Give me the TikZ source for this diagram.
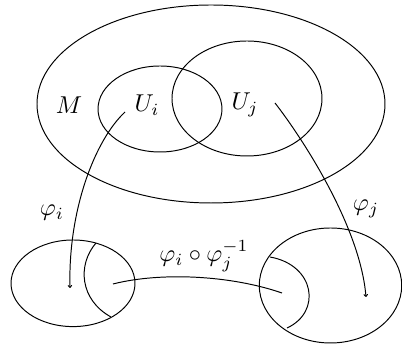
\documentclass[tikz,border=0pt]{standalone}
\usetikzlibrary{arrows.meta}
\begin{document}
\begin{tikzpicture}[x=0.41pt,y=-0.41pt,
  setline/.style={line width=0.4pt},
  mapline/.style={line width=0.4pt,-{To[length=1.2pt,width=1.8pt]}},
  lbl/.style={inner sep=0pt}]
\useasboundingbox (0,0) rectangle (402,345);
% ellipses
\draw[setline] (211,104) ellipse [x radius=174, y radius=99];
\draw[setline] (160,109) ellipse [x radius=62, y radius=43];
\draw[setline] (247,98.5) ellipse [x radius=75, y radius=57.5];
\draw[setline] (73,283.3) ellipse [x radius=62, y radius=43.3];
\draw[setline] (330.5,285.5) ellipse [x radius=71.2, y radius=57.5];
% inner arcs
\draw[setline] (96,243) .. controls (77,265) and (80,300) .. (111,317);
\draw[setline] (270,257) .. controls (315,265) and (322,312) .. (287,328);
% labels
\node[lbl] (M) at (69,105) {$M$};
\node[lbl] (Ui) at (147,105) {$U_i$};
\node[lbl] (Uj) at (245,105) {$U_j$};
\node[lbl] (pi) at (52,213) {$\varphi_i$};
\node[lbl] (pj) at (366,209) {$\varphi_j$};
\node[lbl] (pij) at (204,256) {$\varphi_i\circ\varphi_j^{-1}$};
% maps
\coordinate (a1) at (125,112);
\coordinate (a2) at (70,288);
\coordinate (b1) at (275,103);
\coordinate (b2) at (366,297);
\coordinate (c1) at (113,284);
\coordinate (c2) at (282,293);
\draw[mapline] (a1) .. controls (95,140) and (68,210) .. (a2);
\draw[mapline] (b1) .. controls (300,135) and (360,225) .. (b2);
\draw[setline] (c1) .. controls (160,272) and (230,275) .. (c2);
\end{tikzpicture}
\end{document}
